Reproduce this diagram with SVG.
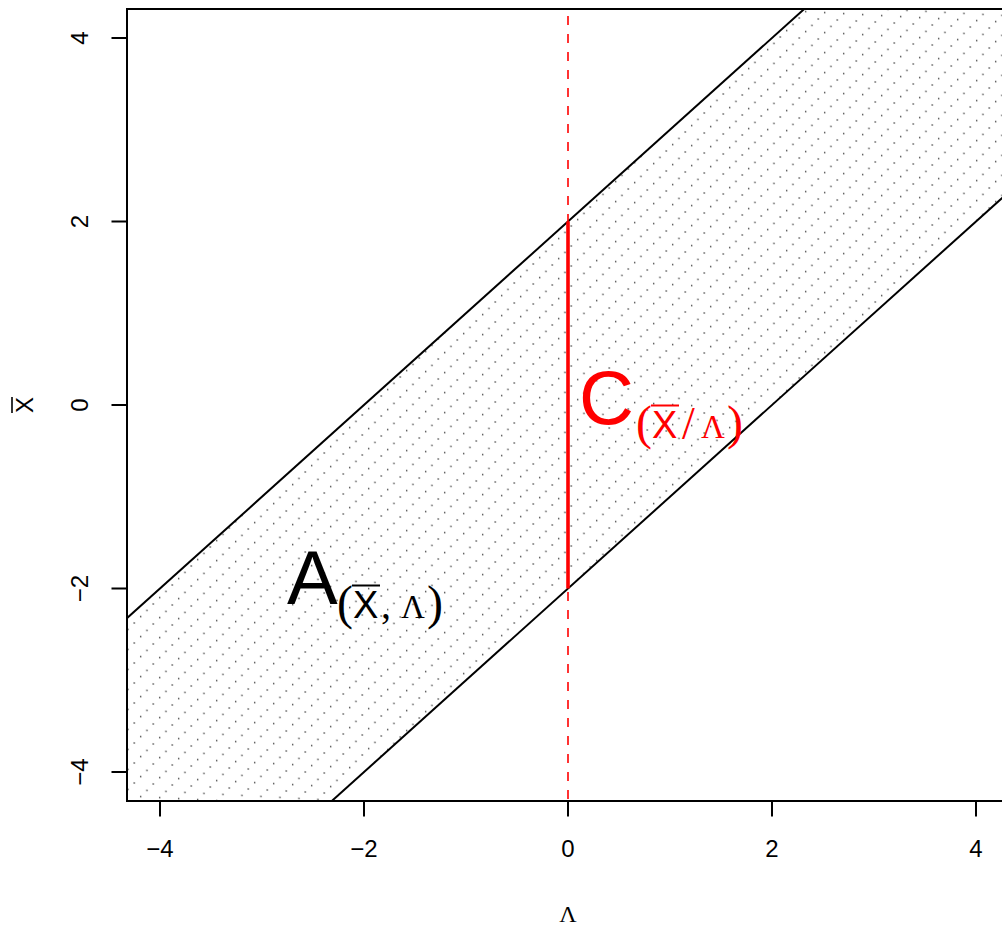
<svg xmlns="http://www.w3.org/2000/svg" width="1002" height="929" viewBox="0 0 1002 929">
<style>
.ax{stroke:#000;stroke-width:2;fill:none}
.tk{font-family:"Liberation Sans",Arial,sans-serif;font-size:24px;fill:#000}
.sans{font-family:"Liberation Sans",Arial,sans-serif}
.serif{font-family:"Liberation Serif","Times New Roman",serif}
.dot{fill:#222}
</style>
<defs>
<pattern id="dots" patternUnits="userSpaceOnUse" x="0" y="0" width="19" height="20" patternTransform="translate(152.3,702.95) skewY(3.0128)">
<rect class="dot" x="0.35" y="0.35" width="1.3" height="1.3"/>
<rect class="dot" x="13.017" y="7.017" width="1.3" height="1.3"/>
<rect class="dot" x="6.683" y="13.683" width="1.3" height="1.3"/>
</pattern>
<clipPath id="plotclip"><rect x="127" y="9" width="882" height="792"/></clipPath>
</defs>
<rect width="1002" height="929" fill="#fff"/>
<g id="band" clip-path="url(#plotclip)">
<polygon points="127,618.2 804.2,9 1002,9 1002,198.1 331.8,801 127,801" fill="url(#dots)"/>
</g>
<g id="connectors" clip-path="url(#plotclip)">
<line class="ax" x1="120" y1="624.5" x2="811" y2="2.9"/>
<line class="ax" x1="324.8" y1="807.3" x2="1009" y2="191.8"/>
<line x1="568" y1="9" x2="568" y2="801" stroke="#f00" stroke-width="1.6" stroke-dasharray="9 9" stroke-dashoffset="11"/>
<line x1="568" y1="221.5" x2="568" y2="588.5" stroke="#f00" stroke-width="3.6"/>
</g>
<g id="axes">
<rect class="ax" x="127" y="9" width="882" height="792"/>
<path class="ax" d="M160,801V816.5M364,801V816.5M568,801V816.5M772,801V816.5M976,801V816.5"/>
<path class="ax" d="M127,38H111.5M127,221.5H111.5M127,405H111.5M127,588.5H111.5M127,772H111.5"/>
<g class="tk" text-anchor="middle">
<text x="160" y="857">−4</text>
<text x="364" y="857">−2</text>
<text x="568" y="857">0</text>
<text x="772" y="857">2</text>
<text x="976" y="857">4</text>
<text transform="translate(88,38) rotate(-90)">4</text>
<text transform="translate(88,221.5) rotate(-90)">2</text>
<text transform="translate(88,405) rotate(-90)">0</text>
<text transform="translate(88,588.5) rotate(-90)">−2</text>
<text transform="translate(88,772) rotate(-90)">−4</text>
</g>
</g>
<g id="xlab">
<text class="serif" x="568" y="922" font-size="24" text-anchor="middle">Λ</text>
</g>
<g id="ylab">
<text class="sans" transform="translate(33,405) rotate(-90)" font-size="24" text-anchor="middle">X</text>
<line x1="12" y1="397" x2="12" y2="413" stroke="#000" stroke-width="1.6"/>
</g>
<g id="labelA">
<text class="sans" x="287" y="604" font-size="76">A</text>
<text class="serif" x="337" y="619" font-size="48">(</text>
<text class="sans" x="353" y="618" font-size="38">X</text>
<line x1="352" y1="585.5" x2="380" y2="585.5" stroke="#000" stroke-width="2"/>
<text class="serif" x="381" y="618" font-size="40">,</text>
<text class="serif" x="401" y="618" font-size="33">Λ</text>
<text class="serif" x="427" y="619" font-size="48">)</text>
</g>
<g id="labelC" fill="#f00">
<text class="sans" x="579" y="424" font-size="76">C</text>
<text class="serif" x="636" y="439" font-size="48">(</text>
<text class="sans" x="652" y="438" font-size="38">X</text>
<line x1="651" y1="405.5" x2="679" y2="405.5" stroke="#f00" stroke-width="2"/>
<text class="serif" x="682" y="439" font-size="46">/</text>
<text class="serif" x="701" y="438" font-size="33">Λ</text>
<text class="serif" x="727" y="439" font-size="48">)</text>
</g>
</svg>
